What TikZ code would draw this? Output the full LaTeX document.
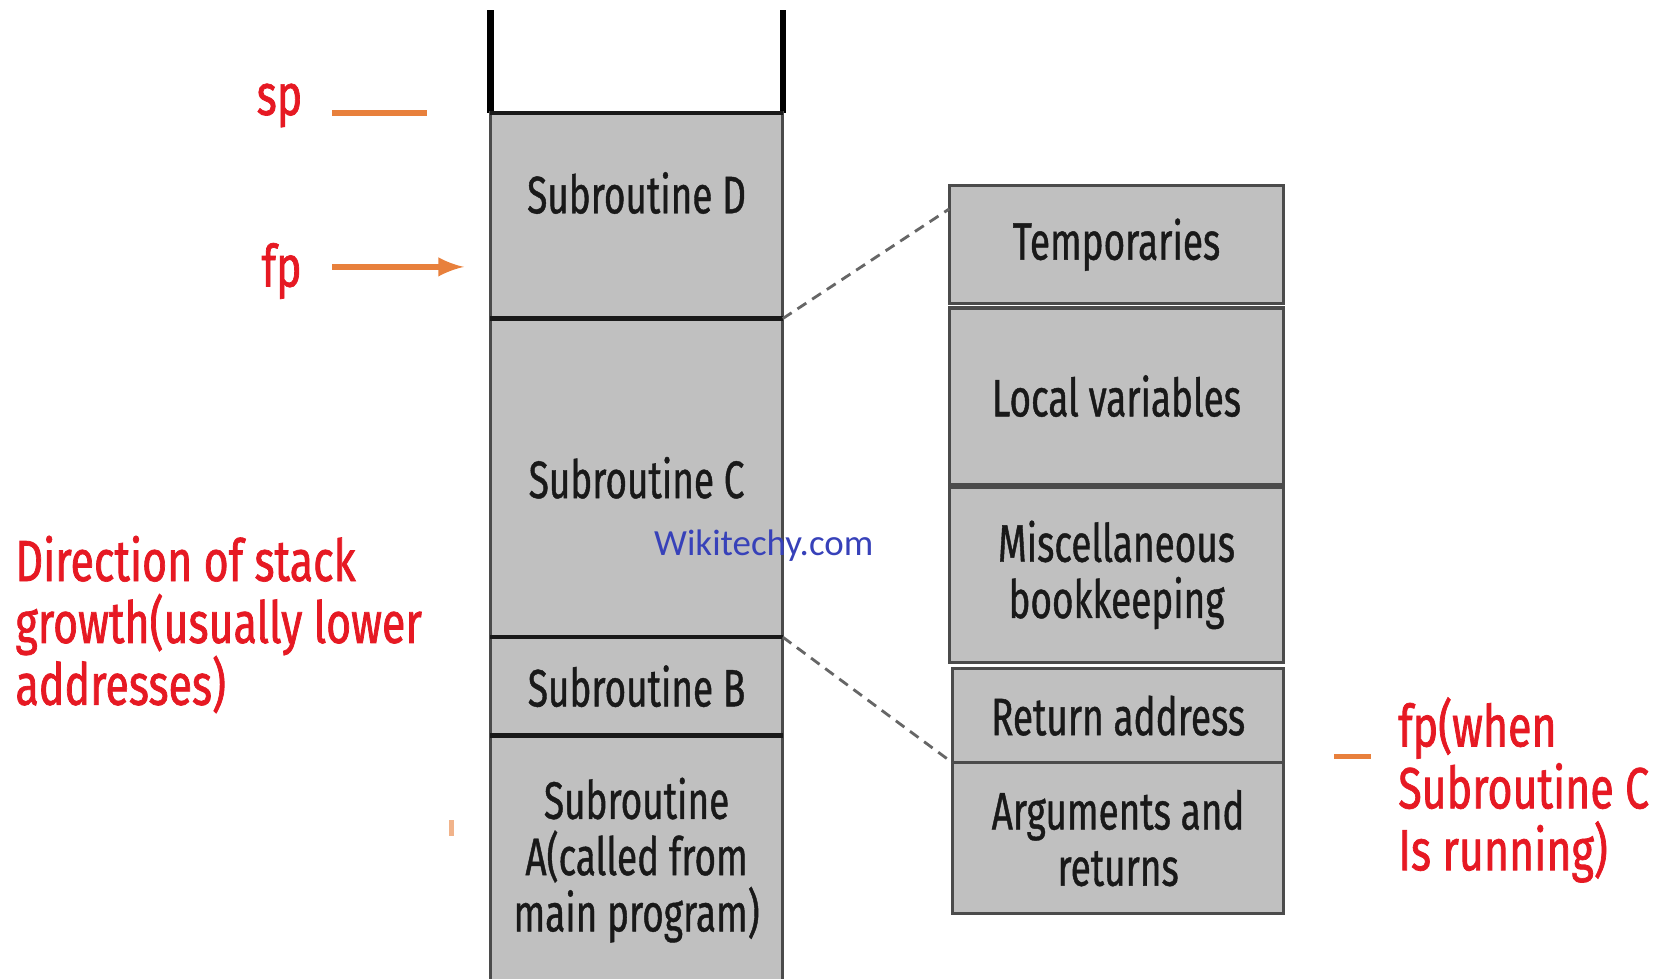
\documentclass[tikz,border=0pt]{standalone}
\usepackage{fontspec}
\setmainfont{Fira Sans}[FakeStretch=0.7,FakeBold=0.8]
\newfontfamily\notefont{Fira Sans}[FakeStretch=0.74,FakeBold=1.2]
\newfontfamily\webfont{Carlito}

\definecolor{framegray}{RGB}{192,192,192}
\definecolor{edgegray}{RGB}{75,75,75}
\definecolor{inkblack}{RGB}{25,25,25}
\definecolor{notered}{RGB}{230,25,35}
\definecolor{pointer}{RGB}{232,128,60}
\definecolor{webblue}{RGB}{55,65,185}

\begin{document}
\begin{tikzpicture}[x=0.01cm,y=-0.01cm,
    frame/.style={draw=edgegray,fill=framegray,line width=0.9pt,inner sep=0pt,outer sep=0pt,
        align=center,text=inkblack,font=\fontsize{15}{16}\selectfont},
    divider/.style={draw=inkblack,line width=1.3pt},
    wall/.style={draw=black,line width=1.8pt},
    note/.style={text=notered,align=left,inner sep=0pt,font=\notefont\fontsize{16.5}{17.6}\selectfont},
    pointer/.style={draw=pointer,line width=1.5pt},
    zoomline/.style={draw=black!60,line width=0.8pt,dash pattern=on 3pt off 2pt}]
    \useasboundingbox (0,0) rectangle (1654,979);

    % Stack walls
    \draw[wall] (490.5,10.5) -- (490.5,112.9);
    \draw[wall] (782.7,10.5) -- (782.7,112.9);

    % Stack frames
    \node[frame,minimum width=2.922cm,minimum height=2.056cm] (subD) at (636.6,215.7) {};
    \node[align=center,text=inkblack,font=\fontsize{15}{16}\selectfont] (subDtext) at (636.6,193) {Subroutine D};
    \node[frame,minimum width=2.922cm,minimum height=3.186cm] (subC) at (636.6,477.8) {Subroutine C};
    \node[frame,minimum width=2.922cm,minimum height=0.981cm] (subB) at (636.6,686.2) {Subroutine B};
    \node[frame,minimum width=2.922cm,minimum height=2.498cm] (subA) at (636.6,860.1)
        {Subroutine\\A(called from\\main program)};

    % Frame boundaries
    \draw[divider] (subD.north west) -- (subD.north east);
    \draw[divider] (subD.south west) -- (subD.south east);
    \draw[divider] (subB.north west) -- (subB.north east);
    \draw[divider] (subB.south west) -- (subB.south east);

    % Layout of frame C
    \node[frame,minimum width=3.344cm,minimum height=1.182cm] (temp) at (1116.5,244.7) {Temporaries};
    \node[frame,minimum width=3.344cm,minimum height=1.762cm] (locals) at (1116.5,396.1) {Local variables};
    \node[frame,minimum width=3.344cm,minimum height=1.751cm] (misc) at (1116.5,574.9)
        {Miscellaneous\\bookkeeping};
    \node[frame,minimum width=3.312cm,minimum height=0.939cm] (ret) at (1118.1,715.7) {Return address};
    \node[frame,minimum width=3.312cm,minimum height=1.509cm] (args) at (1118.1,838.1)
        {Arguments and\\returns};

    % Zoom lines
    \coordinate (tempjoin) at (949.3,208.9);
    \draw[zoomline] (subD.south east) -- (tempjoin);
    \draw[zoomline] (subB.north east) -- (ret.south west);

    % Pointers
    \node[note] (sp) at (279.5,105.5) {sp};
    \node[note] (fp) at (281.6,271) {fp};
    \coordinate (spfrom) at (332,112.9);
    \coordinate (spto) at (427,112.9);
    \coordinate (fpfrom) at (332,266.9);
    \coordinate (fpto) at (464,266.9);
    \draw[pointer] (spfrom) -- (spto);
    \draw[pointer,-latex] (fpfrom) -- (fpto);

    \node[note,anchor=west] (growth) at (14.8,624.5)
        {Direction of stack\\growth(usually lower\\addresses)};

    \node[note,anchor=west] (fpwhen) at (1397.6,790)
        {fp(when\\Subroutine C\\Is running)};
    \coordinate (fpwfrom) at (1334.3,756.3);
    \coordinate (fpwto) at (1371.2,756.3);
    \draw[pointer] (fpwfrom) -- (fpwto);

    % Stray tick
    \coordinate (tickfrom) at (451.5,820);
    \coordinate (tickto) at (451.5,836);
    \draw[pointer,line width=1.2pt,draw opacity=0.6] (tickfrom) -- (tickto);

    % Watermark
    \node[text=webblue,font=\webfont\fontsize{10.5}{12}\selectfont] (web) at (763.7,545.3) {Wikitechy.com};
\end{tikzpicture}
\end{document}
